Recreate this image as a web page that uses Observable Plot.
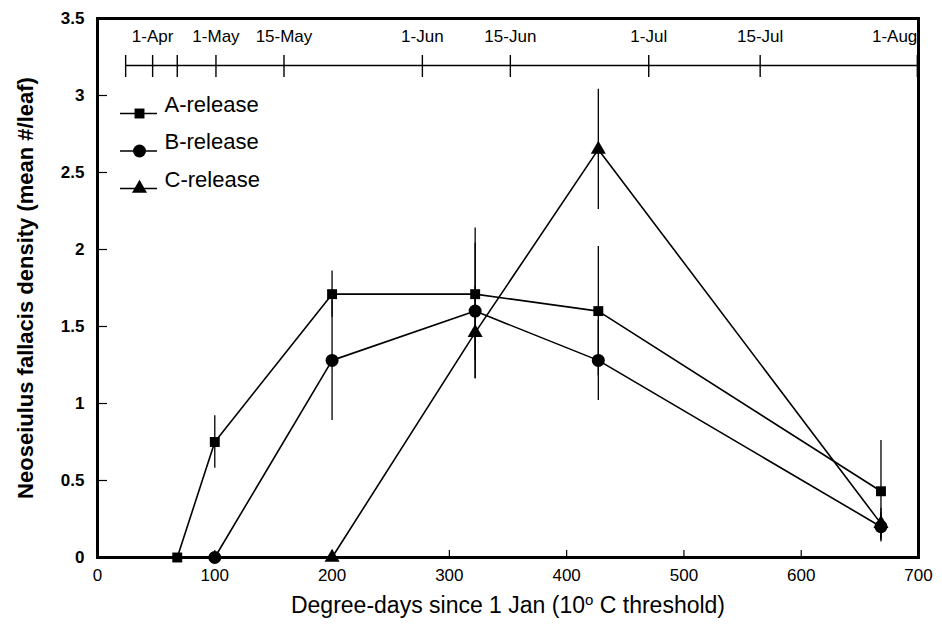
<!DOCTYPE html>
<html><head><meta charset="utf-8">
<script src="https://cdn.jsdelivr.net/npm/d3@7"></script>
<script src="https://cdn.jsdelivr.net/npm/@observablehq/plot@0.6"></script>
<style>
body{margin:0;background:#fff;font-family:"Liberation Sans",Arial,sans-serif}
#chart{width:942px;height:628px}
</style>
</head><body><div id="chart"></div>
<script>
// ---- data ----
const seriesNames = ["A-release", "B-release", "C-release"];
const seriesSymbols = ["square", "circle", "triangle"];
const seriesR = [5.6, 6.5, 5.6];

const aDD   = [68, 100, 200, 322, 427, 668];
const aMean = [0, 0.75, 1.71, 1.71, 1.60, 0.43];
const aErr  = [0, 0.17, 0.15, 0.43, 0.42, 0.33];

const bDD   = [100, 200, 322, 427, 668];
const bMean = [0, 1.28, 1.60, 1.28, 0.20];
const bErr  = [0, 0.39, 0.44, 0.26, 0.09];

const cDD   = [200, 322, 427, 668];
const cMean = [0, 1.46, 2.65, 0.22];
const cErr  = [0, 0.30, 0.39, 0.10];

const xTicks = [0, 100, 200, 300, 400, 500, 600, 700];
const yTicks = [0, 0.5, 1, 1.5, 2, 2.5, 3, 3.5];

const dateDD     = [24, 47, 68, 101, 159, 277, 352, 470, 565, 699];
const dateLabels = ["", "1-Apr", "", "1-May", "15-May", "1-Jun", "15-Jun", "1-Jul", "15-Jul", "1-Aug"];

// ---- build table ----
const src = [[aDD, aMean, aErr], [bDD, bMean, bErr], [cDD, cMean, cErr]];
const rows = src.flatMap(([xs, ms, es], i) =>
  xs.map((x, j) => ({series: seriesNames[i], dd: x, mean: ms[j], err: es[j]})));
const dates = dateDD.map((d, i) => ({dd: d, label: dateLabels[i], last: i === dateDD.length - 1}));

// layout constants (pixels -> data units)
const W = 942, H = 628, mL = 97, mR = 24, mT = 18, mB = 71;
const pxY = (H - mT - mB) / 3.5;
const pxX = (W - mL - mR) / 700;
const yAt = px => 3.5 - (px - mT) / pxY;
const xAt = px => (px - mL) / pxX;

const font = '"Liberation Sans", Arial, sans-serif';

const legendMarks = seriesNames.flatMap((name, i) => {
  const ly = yAt(113 + i * 37.5);
  return [
    Plot.ruleY([ly], {x1: xAt(120), x2: xAt(157), stroke: "black", strokeWidth: 1.6}),
    Plot.dot([ly], {x: xAt(139), y: d => d, symbol: seriesSymbols[i], r: seriesR[i], fill: "black", stroke: "none"}),
    Plot.text([name], {x: xAt(164), y: yAt(104 + i * 37.5), text: d => d, textAnchor: "start", fontSize: 22, fill: "black"})
  ];
});

const chart = Plot.plot({
  width: W, height: H,
  marginLeft: mL, marginRight: mR, marginTop: mT, marginBottom: mB,
  style: {fontFamily: font, background: "white", color: "black"},
  x: {domain: [0, 700], label: null},
  y: {domain: [0, 3.5], label: null},
  marks: [
    Plot.axisX(xTicks, {tickSize: 0, tickPadding: 11, fontSize: 17, label: null}),
    Plot.axisY(yTicks, {tickSize: 0, tickPadding: 13, fontSize: 17, fontWeight: "bold", label: null, tickFormat: d => String(d)}),
    Plot.ruleY(yTicks.slice(1, -1), {x1: 0, x2: xAt(mL + 10), stroke: "black", strokeWidth: 1.2}),
    Plot.ruleX(xTicks.slice(1, -1), {y1: 0, y2: yAt(H - mB - 7), stroke: "black", strokeWidth: 1.2}),
    // top date axis
    Plot.ruleY([yAt(65)], {x1: dateDD[0], x2: dateDD[dateDD.length - 1], stroke: "black", strokeWidth: 1.4}),
    Plot.ruleX(dates, {x: "dd", y1: yAt(55), y2: yAt(77), stroke: "black", strokeWidth: 1.4}),
    Plot.text(dates.filter(d => d.label && !d.last), {x: "dd", y: yAt(36), text: "label",
      textAnchor: "middle", fontSize: 17, fill: "black"}),
    Plot.text(dates.filter(d => d.label && d.last), {x: "dd", y: yAt(36), text: "label",
      textAnchor: "end", fontSize: 17, fill: "black"}),
    // error bars
    Plot.ruleX(rows.filter(d => d.err > 0), {x: "dd", y1: d => d.mean - d.err, y2: d => d.mean + d.err, stroke: "black", strokeWidth: 1.3}),
    // lines
    Plot.line(rows, {x: "dd", y: "mean", z: "series", stroke: "black", strokeWidth: 1.6}),
    // markers
    ...seriesNames.map((name, i) =>
      Plot.dot(rows.filter(d => d.series === name), {x: "dd", y: "mean", symbol: seriesSymbols[i], r: seriesR[i], fill: "black", stroke: "none"})),
    ...legendMarks,
    Plot.frame({stroke: "black", strokeWidth: 3}),
    // titles
    Plot.text(["Neoseiulus fallacis density (mean #/leaf)"], {frameAnchor: "left", dx: -72, rotate: -90, textAnchor: "middle", text: d => d, fontSize: 22, fontWeight: "bold", fill: "black"}),
    Plot.text(["xtitle"], {frameAnchor: "bottom", dy: 55, textAnchor: "middle", text: d => d, fontSize: 23, fill: "black", className: "xtitle"})
  ]
});

d3.select(chart).selectAll(".xtitle text").each(function() {
  const t = d3.select(this);
  t.text(null);
  t.append("tspan").text("Degree-days since 1 Jan (10");
  t.append("tspan").attr("baseline-shift", "super").attr("font-size", 15).text("o");
  t.append("tspan").attr("baseline-shift", "0").text(" C threshold)");
});

document.getElementById("chart").appendChild(chart);
</script>
</body></html>
